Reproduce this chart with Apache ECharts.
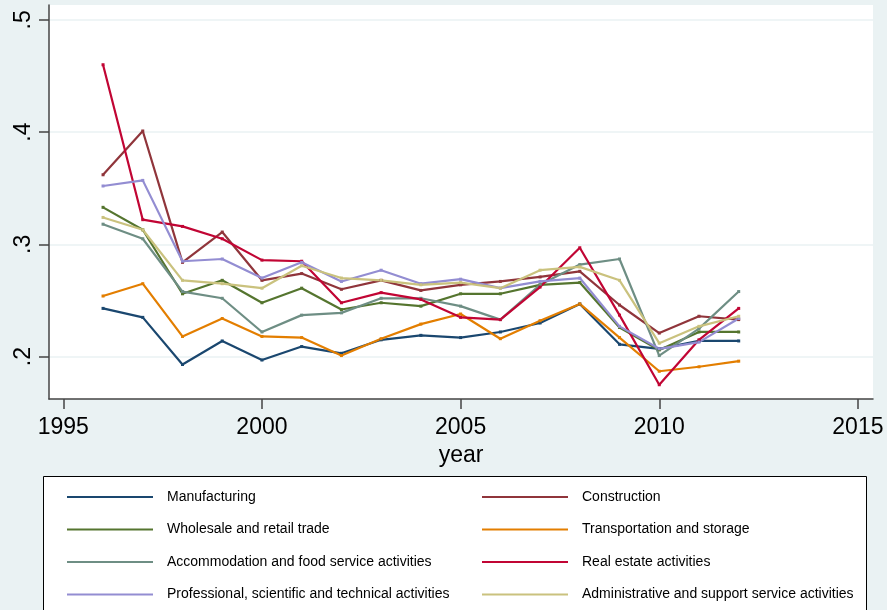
<!DOCTYPE html>
<html>
<head>
<meta charset="utf-8">
<script src="https://cdn.jsdelivr.net/npm/echarts@6/dist/echarts.min.js"></script>
<style>
  html, body { margin: 0; padding: 0; background: #EAF2F3; }
  #chart { width: 887px; height: 610px; }
</style>
</head>
<body>
<div id="chart"></div>
<script>
// Years on the x axis
const years = [1996, 1997, 1998, 1999, 2000, 2001, 2002, 2003, 2004, 2005, 2006, 2007, 2008, 2009, 2010, 2011, 2012];

// Sector names (legend order)
const sectorNames = [
  'Manufacturing',
  'Construction',
  'Wholesale and retail trade',
  'Transportation and storage',
  'Accommodation and food service activities',
  'Real estate activities',
  'Professional, scientific and technical activities',
  'Administrative and support service activities'
];

// Values per sector, one per year
const manufacturing  = [0.243, 0.235, 0.193, 0.214, 0.197, 0.209, 0.203, 0.215, 0.219, 0.217, 0.222, 0.230, 0.247, 0.211, 0.207, 0.214, 0.214];
const construction   = [0.362, 0.401, 0.284, 0.311, 0.268, 0.274, 0.260, 0.268, 0.259, 0.264, 0.267, 0.271, 0.276, 0.246, 0.221, 0.236, 0.233];
const wholesale      = [0.333, 0.313, 0.256, 0.268, 0.248, 0.261, 0.242, 0.248, 0.245, 0.256, 0.256, 0.264, 0.266, 0.226, 0.206, 0.222, 0.222];
const transport      = [0.254, 0.265, 0.218, 0.234, 0.218, 0.217, 0.201, 0.216, 0.229, 0.238, 0.216, 0.232, 0.247, 0.217, 0.187, 0.191, 0.196];
const accommodation  = [0.318, 0.305, 0.258, 0.252, 0.222, 0.237, 0.239, 0.252, 0.252, 0.245, 0.233, 0.264, 0.282, 0.287, 0.201, 0.225, 0.258];
const realEstate     = [0.460, 0.322, 0.316, 0.305, 0.286, 0.285, 0.248, 0.257, 0.251, 0.235, 0.233, 0.262, 0.297, 0.237, 0.175, 0.215, 0.243];
const professional   = [0.352, 0.357, 0.285, 0.287, 0.270, 0.284, 0.267, 0.277, 0.265, 0.269, 0.261, 0.267, 0.270, 0.227, 0.207, 0.213, 0.234];
const administrative = [0.324, 0.313, 0.268, 0.265, 0.261, 0.281, 0.270, 0.268, 0.264, 0.266, 0.261, 0.277, 0.280, 0.268, 0.212, 0.227, 0.236];

const seriesValues = [manufacturing, construction, wholesale, transport, accommodation, realEstate, professional, administrative];

// Tick positions
const xTicks = [1995, 2000, 2005, 2010, 2015];
const yTicks = [0.2, 0.3, 0.4, 0.5];

const palette = ['#1A476F', '#90353B', '#55752F', '#E37E00', '#6E8E84', '#C10534', '#938DD2', '#CAC27E'];

const chart = echarts.init(document.getElementById('chart'), null, { renderer: 'canvas' });

const series = sectorNames.map((name, i) => ({
  name,
  type: 'line',
  data: years.map((y, j) => [y, seriesValues[i][j]]),
  symbol: 'rect',
  symbolSize: 3,
  showSymbol: true,
  lineStyle: { width: 2.2, color: palette[i] },
  itemStyle: { color: palette[i] },
  emphasis: { disabled: true },
  animation: false
}));

// Legend: two columns of four entries, one legend block per entry
const legendCols = [67, 482];
const legendRows = [489, 521.5, 554, 586.5];
const legends = sectorNames.map((name, i) => ({
  data: [name],
  left: legendCols[i % 2],
  top: legendRows[Math.floor(i / 2)],
  icon: 'rect',
  itemWidth: 86,
  itemHeight: 2,
  selectedMode: false,
  padding: 0,
  textStyle: { fontFamily: 'Liberation Sans', fontSize: 14, color: '#000', lineHeight: 16, padding: [0, 0, 0, 9] }
}));

chart.setOption({
  backgroundColor: '#EAF2F3',
  color: palette,
  animation: false,
  grid: {
    left: 49, top: 5, width: 824, height: 394,
    show: true, backgroundColor: '#FFFFFF', borderWidth: 0
  },
  xAxis: {
    type: 'value',
    min: 1994.64, max: 2015.38,
    name: 'year',
    nameLocation: 'middle',
    nameGap: 44,
    nameTextStyle: { fontFamily: 'Liberation Sans', fontSize: 23, color: '#000' },
    axisLine: { show: true, lineStyle: { color: '#444', width: 1.5 } },
    axisTick: { show: true, customValues: xTicks, length: 10, lineStyle: { color: '#444', width: 1.5 } },
    axisLabel: { customValues: xTicks, fontFamily: 'Liberation Sans', fontSize: 23, color: '#000', margin: 17, formatter: v => String(v) },
    splitLine: { show: false }
  },
  yAxis: {
    type: 'value',
    min: 0.1623, max: 0.5132,
    axisLine: { show: true, lineStyle: { color: '#444', width: 1.5 } },
    axisTick: { show: true, customValues: yTicks, length: 10, lineStyle: { color: '#444', width: 1.5 } },
    axisLabel: {
      customValues: yTicks, rotate: 90, fontFamily: 'Liberation Sans', fontSize: 23, color: '#000', margin: 14,
      formatter: v => String(Math.round(v * 10) / 10).replace(/^0/, '')
    },
    splitLine: { show: true, lineStyle: { color: '#EAF2F3', width: 1.5 } }
  },
  legend: legends,
  graphic: [{
    type: 'rect',
    z: -1,
    silent: true,
    shape: { x: 43.5, y: 476.5, width: 823, height: 200 },
    style: { fill: '#FFFFFF', stroke: '#000000', lineWidth: 1 }
  }],
  series
});
</script>
</body>
</html>
